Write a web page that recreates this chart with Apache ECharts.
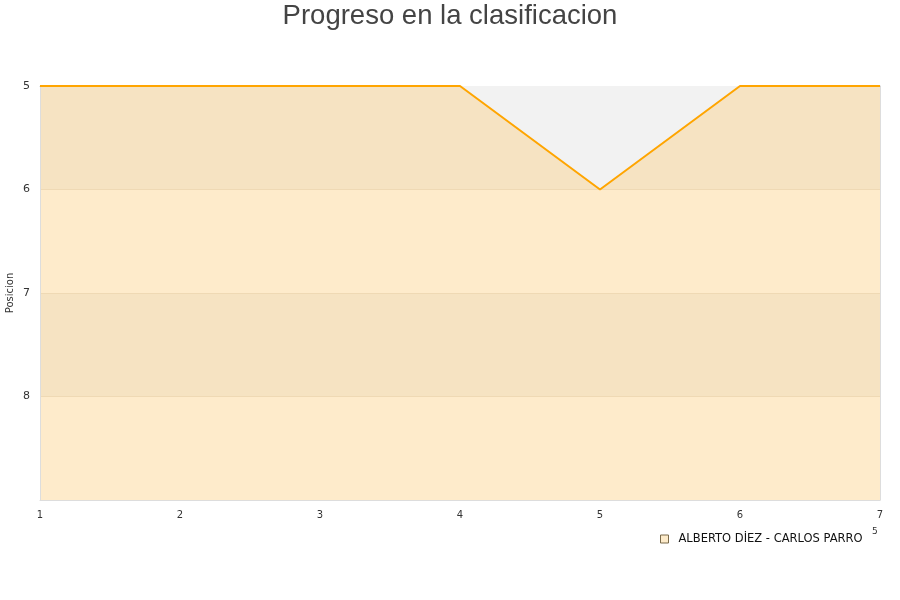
<!DOCTYPE html>
<html>
<head>
<meta charset="utf-8">
<script src="https://cdn.jsdelivr.net/npm/echarts@6/dist/echarts.min.js"></script>
<style>html,body{margin:0;padding:0;background:#fff}#c{width:900px;height:600px}</style>
</head>
<body>
<div id="c"></div>
<script>
const titleText = 'Progreso en la clasificacion';
const seriesName = 'ALBERTO DİEZ - CARLOS PARRO';
const rounds = [1, 2, 3, 4, 5, 6, 7];
const positions = [5, 5, 5, 5, 6, 5, 5];
const yTicks = [5, 6, 7, 8];

const chart = echarts.init(document.getElementById('c'), null, {renderer: 'canvas'});
chart.setOption({
  animation: false,
  backgroundColor: '#fff',
  title: {
    text: titleText, left: 'center', top: -3,
    textStyle: {fontFamily: 'Liberation Sans, Arial, sans-serif', fontSize: 27.5, fontWeight: 'normal', color: '#444'}
  },
  grid: {left: 40, right: 20, top: 86, bottom: 100, containLabel: false, outerBoundsMode: 'none'},
  legend: {
    data: [{name: seriesName, icon: 'rect'}],
    left: 660, top: 533, padding: 0, itemWidth: 8, itemHeight: 8, itemGap: 10,
    textStyle: {fontFamily: 'DejaVu Sans, sans-serif', fontSize: 11.5, color: '#111', padding: [0, 0, 0, 5]},
    itemStyle: {color: '#fdebca', borderColor: '#7a6a4a', borderWidth: 1}
  },
  xAxis: [{
    type: 'value', min: 1, max: 7, interval: 1, position: 'bottom',
    axisLine: {show: true, onZero: false, lineStyle: {color: '#ddd', width: 1}},
    axisTick: {show: false}, splitLine: {show: false},
    axisLabel: {color: '#333', fontSize: 10, fontFamily: 'DejaVu Sans, sans-serif', margin: 10,
      formatter: v => rounds.includes(v) ? String(v) : ''}
  }, {
    type: 'value', min: 1, max: 7, interval: 1, position: 'top',
    axisLine: {show: true, onZero: false, lineStyle: {color: '#ccc', width: 1}},
    axisTick: {show: false}, splitLine: {show: false}, axisLabel: {show: false}
  }],
  yAxis: [{
    type: 'value', min: 5, max: 9, interval: 1, inverse: true, position: 'left',
    name: 'Posicion', nameLocation: 'middle', nameGap: 25, nameRotate: 90, nameMoveOverlap: false,
    nameTextStyle: {fontSize: 10, color: '#333', fontFamily: 'DejaVu Sans, sans-serif'},
    axisLine: {show: true, onZero: false, lineStyle: {color: '#ddd', width: 1}}, axisTick: {show: false},
    axisLabel: {color: '#333', fontSize: 11, fontFamily: 'DejaVu Sans, sans-serif', margin: 10,
      formatter: v => yTicks.includes(v) ? String(v) : ''},
    splitLine: {show: true, lineStyle: {color: '#efd9b4', width: 1}},
    splitArea: {show: true, areaStyle: {color: ['#f6e3c2', '#feebcb']}}
  }, {
    type: 'value', min: 5, max: 9, interval: 1, inverse: true, position: 'right',
    axisLine: {show: true, onZero: false, lineStyle: {color: '#ddd', width: 1}}, axisTick: {show: false},
    axisLabel: {show: false}, splitLine: {show: false}, splitArea: {show: false}
  }],
  graphic: [
    {type: 'text', left: 872, top: 527, style: {text: '5', fontSize: 9, fill: '#333', fontFamily: 'DejaVu Sans, sans-serif'}}
  ],
  series: [{
    name: seriesName, type: 'line', xAxisIndex: 0, yAxisIndex: 0,
    data: rounds.map((r, i) => [r, positions[i]]),
    showSymbol: false, symbol: 'none',
    lineStyle: {color: '#ffa500', width: 2},
    itemStyle: {color: '#fdebca'},
    areaStyle: {color: '#f2f2f2', opacity: 1, origin: 'start'},
    clip: false, z: 3
  }]
});
</script>
</body>
</html>
